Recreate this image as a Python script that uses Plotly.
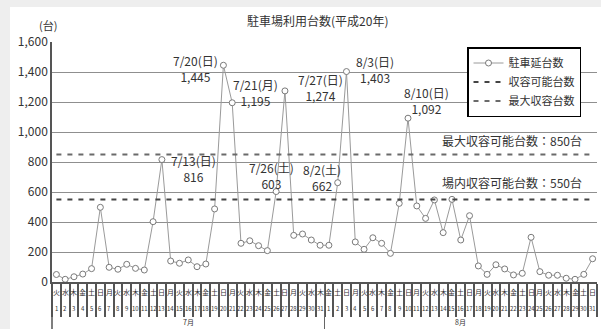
import plotly.graph_objects as go

# ---- data ----
months = ["7月", "8月"]
month_len = [31, 31]
day_labels = [str(d) for d in range(1, 32)] + [str(d) for d in range(1, 32)]
weekday_labels = [
    "火", "水", "木", "金", "土", "日", "月", "火", "水", "木", "金", "土", "日", "月", "火", "水",
    "木", "金", "土", "日", "月", "火", "水", "木", "金", "土", "日", "月", "火", "水", "木",
    "金", "土", "日", "月", "火", "水", "木", "金", "土", "日", "月", "火", "水", "木", "金",
    "土", "日", "月", "火", "水", "木", "金", "土", "日", "月", "火", "水", "木", "金", "土", "日",
]
july_values = [50, 18, 35, 53, 89, 498, 98, 85, 118, 91, 80, 402, 816, 140, 125, 147,
               102, 120, 487, 1445, 1195, 258, 275, 242, 209, 603, 1274, 311, 320, 280, 245]
aug_values = [245, 662, 1403, 267, 218, 295, 258, 191, 524, 1092, 507, 424, 547, 329, 551, 280,
              442, 107, 51, 115, 87, 47, 58, 298, 69, 45, 45, 25, 18, 51, 155]
values = july_values + aug_values
capacity = 550
max_capacity = 850
y_ticks = [0, 200, 400, 600, 800, 1000, 1200, 1400, 1600]
y_ticktext = ["0", "200", "400", "600", "800", "1,000", "1,200", "1,400", "1,600"]

# peak labels: (index, date text, x offset px, y offset px)
peaks = [
    (12, "7/13(日)", 32, -9),
    (19, "7/20(日)", -28, -3),
    (20, "7/21(月)", 23, 10),
    (25, "7/26(土)", -5, 16),
    (26, "7/27(日)", 36, 3),
    (32, "8/2(土)", -16, 5),
    (33, "8/3(日)", 29, 2),
    (40, "8/10(日)", 18, 18),
]

FONT = "Noto Sans CJK JP"
n = len(values)
xs = list(range(n))

fig = go.Figure()
fig.add_trace(go.Scatter(
    x=xs, y=values, mode="lines+markers", name="駐車延台数",
    line=dict(color="#9a9a9a", width=1),
    marker=dict(symbol="circle", size=6, color="white", line=dict(color="#7a7a7a", width=1)),
))
fig.add_trace(go.Scatter(
    x=[xs[0], xs[-1]], y=[capacity, capacity], mode="lines", name="収容可能台数",
    line=dict(color="#444444", width=2, dash="5px,6px"),
))
fig.add_trace(go.Scatter(
    x=[xs[0], xs[-1]], y=[max_capacity, max_capacity], mode="lines", name="最大収容台数",
    line=dict(color="#6a6a6a", width=2, dash="5px,6px"),
))

L, R, T, B = 52, 4, 42, 47
W, H = 601, 329
pw, ph = W - L - R, H - T - B

def px2paper_x(px):
    return (px - L) / pw

def px2paper_y(py):
    return (H - B - py) / ph

annotations = []
# tick labels
for i in range(n):
    annotations.append(dict(x=i, y=px2paper_y(292), xref="x", yref="paper", text=weekday_labels[i],
                            showarrow=False, font=dict(family=FONT, size=7, color="#333"),
                            xanchor="center", yanchor="middle"))
    annotations.append(dict(x=i, y=px2paper_y(308), xref="x", yref="paper", text=day_labels[i],
                            showarrow=False, font=dict(family=FONT, size=6, color="#333"),
                            xanchor="center", yanchor="middle"))
start = 0
for m, ln in zip(months, month_len):
    annotations.append(dict(x=start + (ln - 1) / 2, y=px2paper_y(322), xref="x", yref="paper", text=m,
                            showarrow=False, font=dict(family=FONT, size=7, color="#333"),
                            xanchor="center", yanchor="middle"))
    start += ln

for idx, lab, dx, dy in peaks:
    v = values[idx]
    annotations.append(dict(x=idx, y=v, xref="x", yref="y", text=f"{lab}<br>{v:,}",
                            showarrow=False, xshift=dx, yshift=dy, align="center",
                            font=dict(family=FONT, size=12, color="#333"),
                            xanchor="center", yanchor="middle"))

annotations.append(dict(x=px2paper_x(584), y=max_capacity, xref="paper", yref="y",
                        text=f"最大収容可能台数：{max_capacity}台", showarrow=False, yshift=14,
                        font=dict(family=FONT, size=12, color="#333"), xanchor="right", yanchor="middle"))
annotations.append(dict(x=px2paper_x(584), y=capacity, xref="paper", yref="y",
                        text=f"場内収容可能台数：{capacity}台", showarrow=False, yshift=17,
                        font=dict(family=FONT, size=12, color="#333"), xanchor="right", yanchor="middle"))

annotations.append(dict(x=px2paper_x(317), y=px2paper_y(20), xref="paper", yref="paper",
                        text="駐車場利用台数(平成20年)", showarrow=False,
                        font=dict(family=FONT, size=12, color="#333"), xanchor="center", yanchor="middle"))
annotations.append(dict(x=px2paper_x(48), y=px2paper_y(25), xref="paper", yref="paper",
                        text="(台)", showarrow=False,
                        font=dict(family=FONT, size=11, color="#333"), xanchor="center", yanchor="middle"))

shapes = [
    # white chart panel over light-grey frame
    dict(type="rect", xref="paper", yref="paper", x0=px2paper_x(10), x1=px2paper_x(W + 5),
         y0=px2paper_y(H + 5), y1=px2paper_y(7), fillcolor="white", line=dict(width=0), layer="below"),
    # y axis extension down through label area
    dict(type="line", xref="paper", yref="paper", x0=0, x1=0, y0=px2paper_y(H + 2), y1=0,
         line=dict(color="#555", width=1.5)),
    # month divider
    dict(type="line", xref="x", yref="paper", x0=month_len[0] - 0.5, x1=month_len[0] - 0.5,
         y0=px2paper_y(H + 2), y1=0, line=dict(color="#666", width=1)),
]

fig.update_layout(
    width=W, height=H,
    margin=dict(l=L, r=R, t=T, b=B),
    paper_bgcolor="#eeeeee",
    plot_bgcolor="rgba(0,0,0,0)",
    font=dict(family=FONT, size=12, color="#333"),
    showlegend=True,
    legend=dict(x=px2paper_x(467), y=px2paper_y(47), xanchor="left", yanchor="top",
                bgcolor="white", bordercolor="black", borderwidth=1.5,
                font=dict(family=FONT, size=11, color="#333"), tracegroupgap=0,
                itemwidth=30),
    annotations=annotations,
    shapes=shapes,
    xaxis=dict(range=[-0.5, n - 0.5], tickmode="array",
               tickvals=[i - 0.5 for i in range(n + 1)], ticktext=[""] * (n + 1),
               ticks="outside", ticklen=33, tickwidth=2, tickcolor="#555",
               showticklabels=False, showgrid=False, zeroline=False,
               showline=True, linecolor="#555", linewidth=1.5, fixedrange=True),
    yaxis=dict(range=[0, 1600], tickmode="array", tickvals=y_ticks, ticktext=y_ticktext,
               showgrid=True, gridcolor="#8f8f8f", gridwidth=1, zeroline=False,
               showline=True, linecolor="#555", linewidth=1.5, ticks="",
               tickfont=dict(family=FONT, size=12, color="#333"), fixedrange=True),
)

fig.write_html("out.html")
